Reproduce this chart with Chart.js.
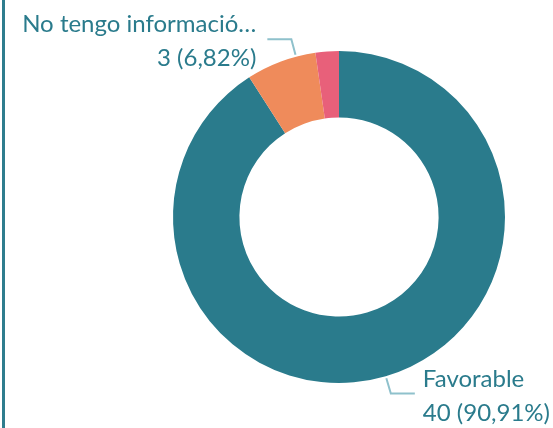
<!DOCTYPE html>
<html>
<head>
<meta charset="utf-8">
<script src="https://cdn.jsdelivr.net/npm/chart.js@4/dist/chart.umd.min.js"></script>
<style>
  html, body { margin: 0; padding: 0; background: #fff; }
  #wrap { position: relative; width: 553px; height: 428px; }
  #edge { position: absolute; left: 2px; top: 0; width: 3px; height: 428px; background: #2f7d8e; }
  canvas { position: absolute; left: 0; top: 0; }
</style>
</head>
<body>
<div id="wrap">
  <div id="edge"></div>
  <canvas id="chart" width="553" height="428"></canvas>
</div>
<script>
// data
const labels = ['Favorable', 'No tengo informació…', 'Desfavorable'];
const values = [40, 3, 1];
const sliceColors = ['#2a7b8c', '#ef8b5b', '#e8607a'];

const textColor = '#2a7b8c';
const leaderColor = '#8fc1cc';
const fontFamily = 'Lato, "Open Sans", sans-serif';

const total = values.reduce((a, b) => a + b, 0);

function fmtPct(v) {
  return (v / total * 100).toFixed(2).replace('.', ',') + '%';
}

// draws the callout labels with elbow leader lines
const calloutLabels = {
  id: 'calloutLabels',
  afterDatasetsDraw(chart) {
    const ctx = chart.ctx;
    const meta = chart.getDatasetMeta(0);
    const minX = 22;
    ctx.save();
    ctx.font = '24px ' + fontFamily;
    ctx.fillStyle = textColor;
    ctx.textBaseline = 'alphabetic';
    meta.data.forEach((arc, i) => {
      const share = values[i] / total;
      if (share < 0.05) return;
      const p = arc.getProps(['x', 'y', 'startAngle', 'endAngle', 'outerRadius']);
      const line1 = labels[i];
      const line2 = values[i] + ' (' + fmtPct(values[i]) + ')';
      const textW = Math.max(ctx.measureText(line1).width, ctx.measureText(line2).width);

      const place = (ang) => {
        const cos = Math.cos(ang), sin = Math.sin(ang);
        const right = cos >= 0;
        const x0 = p.x + cos * (p.outerRadius + 2);
        const y0 = p.y + sin * (p.outerRadius + 2);
        const x1 = p.x + cos * (p.outerRadius + 18);
        const y1 = p.y + sin * (p.outerRadius + 18);
        const x2 = x1 + (right ? 24 : -24);
        const tx = x2 + (right ? 8 : -11);
        return { right, x0, y0, x1, y1, x2, tx };
      };

      // slide the anchor along the slice until the text fits inside the frame
      let ang = (p.startAngle + p.endAngle) / 2;
      let g = place(ang);
      while (!g.right && g.tx - textW < minX && ang < p.endAngle - 0.02) {
        ang += 0.005;
        g = place(ang);
      }

      ctx.strokeStyle = leaderColor;
      ctx.lineWidth = 2;
      ctx.beginPath();
      ctx.moveTo(g.x0, g.y0);
      ctx.lineTo(g.x1, g.y1);
      ctx.lineTo(g.x2, g.y1);
      ctx.stroke();

      ctx.textAlign = g.right ? 'left' : 'right';
      ctx.fillText(line1, g.tx, g.y1 - 7);
      ctx.fillText(line2, g.tx, g.y1 + 27);
    });
    ctx.restore();
  }
};

new Chart(document.getElementById('chart').getContext('2d'), {
  type: 'doughnut',
  data: {
    labels: labels,
    datasets: [{
      data: values,
      backgroundColor: sliceColors,
      borderWidth: 0
    }]
  },
  options: {
    responsive: false,
    animation: false,
    cutout: '60%',
    layout: {
      padding: { left: 173, right: 48, top: 51, bottom: 45 }
    },
    plugins: {
      legend: { display: false },
      tooltip: { enabled: false }
    }
  },
  plugins: [calloutLabels]
});
</script>
</body>
</html>
